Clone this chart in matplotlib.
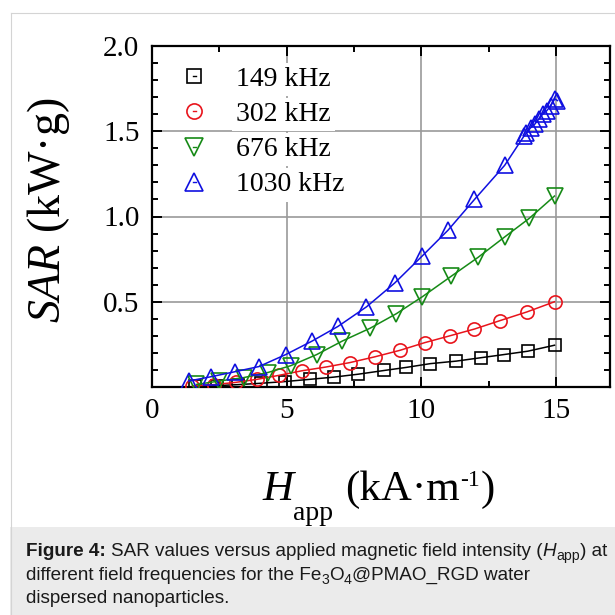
import matplotlib
matplotlib.use('Agg')
import matplotlib.pyplot as plt
from matplotlib.lines import Line2D
from matplotlib.patches import Rectangle
from matplotlib.transforms import IdentityTransform
from matplotlib.ticker import MultipleLocator, FixedLocator, FormatStrFormatter

# ---------------- data ----------------
labels = ['149 kHz', '302 kHz', '676 kHz', '1030 kHz']

h_149 = [1.6, 2.4, 3.2, 4.05, 4.94, 5.86, 6.75, 7.65, 8.62, 9.44, 10.33, 11.3, 12.22, 13.05, 13.95, 14.94]
sar_149 = [0.004, 0.008, 0.014, 0.022, 0.032, 0.045, 0.058, 0.075, 0.097, 0.115, 0.137, 0.152, 0.172, 0.19, 0.21, 0.245]

h_302 = [1.5, 2.3, 3.1, 3.9, 4.7, 5.56, 6.45, 7.34, 8.27, 9.2, 10.12, 11.05, 11.97, 12.93, 13.91, 14.94]
sar_302 = [0.006, 0.014, 0.027, 0.045, 0.068, 0.095, 0.117, 0.143, 0.177, 0.215, 0.26, 0.30, 0.34, 0.39, 0.44, 0.50]

h_676 = [1.65, 2.5, 3.4, 4.3, 5.15, 6.11, 7.07, 8.1, 9.07, 10.04, 11.11, 12.1, 13.09, 14.01, 14.94]
sar_676 = [0.015, 0.035, 0.055, 0.085, 0.125, 0.19, 0.27, 0.345, 0.43, 0.53, 0.65, 0.76, 0.88, 0.99, 1.12]

h_1030 = [1.36, 2.18, 3.09, 3.97, 4.96, 5.95, 6.9, 7.96, 9.01, 10.04, 10.99, 11.97, 13.09,
          13.8, 13.9, 14.05, 14.2, 14.35, 14.5, 14.65, 14.8, 14.95, 15.05]
sar_1030 = [0.035, 0.06, 0.09, 0.12, 0.19, 0.27, 0.355, 0.47, 0.61, 0.77, 0.92, 1.10, 1.30,
            1.47, 1.49, 1.52, 1.54, 1.57, 1.60, 1.62, 1.65, 1.69, 1.68]

x_ticks = [0, 5, 10, 15]
y_ticks = [0.5, 1.0, 1.5, 2.0]

caption_lines = [
    [("Figure 4:", 'bold'), ("GAP", None), ("SAR values versus applied magnetic field intensity (", 'normal'),
     ("H", 'italic'), ("app", 'sub'), (") at", 'normal')],
    [("different field frequencies for the Fe", 'normal'), ("3", 'sub'), ("O", 'normal'), ("4", 'sub'),
     ("@PMAO_RGD water", 'normal')],
    [("dispersed nanoparticles.", 'normal')],
]

# ---------------- style ----------------
plt.rcParams['font.family'] = ['Liberation Serif', 'DejaVu Serif']
plt.rcParams['mathtext.fontset'] = 'custom'
plt.rcParams['mathtext.rm'] = 'Liberation Serif'
plt.rcParams['mathtext.it'] = 'Liberation Serif:italic'

W = 615.0
fig = plt.figure(figsize=(6.15, 6.15), dpi=100)
fig.patch.set_facecolor('white')

def fx(x):
    return x / W

def fy(y):
    return 1 - y / W

# page border and caption box
fig.add_artist(Rectangle((fx(10), 0), 1 - fx(10), fy(527), transform=fig.transFigure,
                         facecolor='#ebebeb', edgecolor='none', zorder=0))
fig.add_artist(Line2D([fx(10.5), 1], [fy(12.5), fy(12.5)], transform=fig.transFigure, color='#d4d4d4', lw=0.8))
fig.add_artist(Line2D([fx(10.5), fx(10.5)], [fy(12.5), 0], transform=fig.transFigure, color='#d4d4d4', lw=0.8))

ax = fig.add_axes([fx(152), fy(387), (610 - 152) / W, (387 - 46) / W])

colors = ['#000000', '#e8141c', '#168a16', '#1010e0']
markers = ['s', 'o', 'v', '^']
msizes = [8.5, 9.5, 11, 11]
series = [(h_149, sar_149), (h_302, sar_302), (h_676, sar_676), (h_1030, sar_1030)]

for (xs, ys), c, m, ms in zip(series, colors, markers, msizes):
    ax.plot(xs, ys, color=c, lw=1.1, marker=m, ms=ms, mfc='none', mec=c, mew=1.2, zorder=3)

ax.set_xlim(0, 17)
ax.set_ylim(0, 2.0)
ax.xaxis.set_major_locator(FixedLocator(x_ticks))
ax.xaxis.set_minor_locator(MultipleLocator(2.5))
ax.yaxis.set_major_locator(FixedLocator(y_ticks))
ax.yaxis.set_minor_locator(MultipleLocator(0.1))
ax.yaxis.set_major_formatter(FormatStrFormatter('%.1f'))
ax.grid(True, which='major', color='#9a9a9a', lw=1.2)
ax.set_axisbelow(True)
for s in ax.spines.values():
    s.set_linewidth(1.6)
ax.tick_params(which='both', direction='in', top=True, right=True, width=1.4)
ax.tick_params(which='major', length=7)
ax.tick_params(which='minor', length=4.5)
ax.tick_params(axis='x', which='major', labelsize=21, pad=8)
ax.tick_params(axis='y', which='major', labelsize=21, pad=9)

# legend
handles = [Line2D([], [], color=c, lw=1.0, marker=m, ms=ms * 1.15, mfc='none', mec=c, mew=1.2)
           for c, m, ms in zip(colors, markers, msizes)]
leg = ax.legend(handles, labels, loc='upper left', bbox_to_anchor=(0.089, 0.94), frameon=False,
                fontsize=20, handlelength=0.1, handletextpad=1.45, labelspacing=0.35,
                borderpad=0, borderaxespad=0)
for t in leg.get_texts():
    t.set_bbox(dict(facecolor='white', edgecolor='none', pad=3))

# y label
fig.text(fx(48.5), fy(210), r'$\mathit{SAR}$ (kW·g)', rotation=90, ha='center', va='center', fontsize=33)

renderer = fig.canvas.get_renderer()
ident = IdentityTransform()

def draw_runs(x0, base_y, runs):
    x = x0
    for txt, props, dy, gap in runs:
        if txt is None:
            x += gap
            continue
        t = fig.text(x, (W - base_y - dy) * fig.dpi / 100.0, txt, transform=ident,
                     ha='left', va='baseline', **props)
        bb = t.get_window_extent(renderer)
        x += bb.width
    return x

# x label
serif = ['Liberation Serif', 'DejaVu Serif']
draw_runs(262, 500, [
    ("H", dict(fontsize=31, style='italic', family=serif), 0, 0),
    ("app", dict(fontsize=20, family=serif), 20, 0),
    (None, None, 0, 12),
    ("(kA·m", dict(fontsize=31, family=serif), 0, 0),
    ("-1", dict(fontsize=17, family=serif), -14, 0),
    (None, None, 0, 1),
    (")", dict(fontsize=31, family=serif), 0, 0),
])

# caption
sans = ['Liberation Sans', 'DejaVu Sans']
cap_fs = 13.6
base = [556, 579.5, 603]
for line, by in zip(caption_lines, base):
    runs = []
    for txt, kind in line:
        if kind is None:
            runs.append((None, None, 0, cap_fs * 1.389 * 0.278))
        elif kind == 'sub':
            runs.append((txt, dict(fontsize=cap_fs * 0.75, family=sans, color='#1a1a1a'), 4, 0))
        elif kind == 'bold':
            runs.append((txt, dict(fontsize=cap_fs, family=sans, weight='bold', color='#1a1a1a'), 0, 0))
        elif kind == 'italic':
            runs.append((txt, dict(fontsize=cap_fs, family=sans, style='italic', color='#1a1a1a'), 0, 0))
        else:
            runs.append((txt, dict(fontsize=cap_fs, family=sans, color='#1a1a1a'), 0, 0))
    draw_runs(26, by, runs)

fig.savefig('out.png', dpi=100, facecolor='white')
